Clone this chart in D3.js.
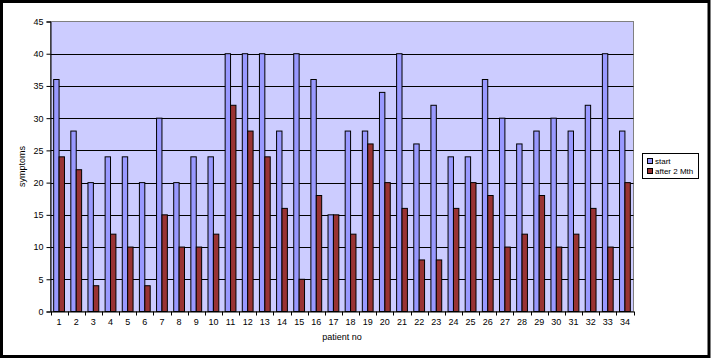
<!DOCTYPE html>
<html><head><meta charset="utf-8">
<script src="https://cdn.jsdelivr.net/npm/d3@7"></script>
<style>body{margin:0;background:#fff}svg{display:block}text{font-family:"Liberation Sans",Arial,sans-serif}</style>
</head><body>
<script>
const patients = d3.range(1, 35).map(String);
const startVals = [36,28,20,24,24,20,30,20,24,24,40,40,40,28,40,36,15,28,28,34,40,26,32,24,24,36,30,26,28,30,28,32,40,28];
const afterVals = [24,22,4,12,10,4,15,10,10,12,32,28,24,16,5,18,15,12,26,20,16,8,8,16,20,18,10,12,18,10,12,16,10,20];
const seriesNames = ["start", "after 2 Mth"];
const yTicks = [0,5,10,15,20,25,30,35,40,45];

const W = 711, H = 359;
const svg = d3.select("body").append("svg").attr("width", W).attr("height", H);
svg.append("rect").attr("x",1.5).attr("y",1.5).attr("width",W-3.5).attr("height",H-4).attr("fill","#fff").attr("stroke","#000").attr("stroke-width",3);

const L = 50.5, R = 633.5, T = 21.5, B = 311.5;
const x = d3.scaleBand().domain(patients).range([L, R]).paddingInner(0).paddingOuter(0);
const y = d3.scaleLinear().domain([0,45]).range([B, T]);
const colors = ["#9999ff", "#993333"];
const series = [startVals, afterVals];

svg.append("rect").attr("x",L).attr("y",T).attr("width",R-L).attr("height",B-T).attr("fill","#ccccff").attr("stroke","#808080");

svg.append("g").selectAll("line").data(yTicks.filter(d=>d>0 && d<45)).join("line")
  .attr("x1",L).attr("x2",R).attr("y1",d=>Math.round(y(d))+0.5).attr("y2",d=>Math.round(y(d))+0.5)
  .attr("stroke","#000");

const bw = x.bandwidth();
const barW = 5.4;
series.forEach((vals, si) => {
  svg.append("g").selectAll("rect").data(vals).join("rect")
    .attr("x",(d,i)=>x(patients[i]) + bw/2 - barW + si*barW)
    .attr("y",d=>y(d))
    .attr("width",barW)
    .attr("height",d=>B-y(d))
    .attr("fill",colors[si]).attr("stroke","#000").attr("stroke-width",1);
});

// y axis
const ya = svg.append("g").attr("transform",`translate(${L},0)`)
  .call(d3.axisLeft(y).tickValues(yTicks).tickSize(4).tickPadding(3));
ya.select(".domain").attr("stroke","#000");
ya.selectAll("text").attr("font-size",9).attr("fill","#000");

// x axis
const xa = svg.append("g").attr("transform",`translate(0,${B})`)
  .call(d3.axisBottom(x).tickSize(0).tickPadding(7));
xa.select(".domain").attr("stroke","#000");
xa.selectAll("text").attr("font-size",9).attr("fill","#000");
svg.append("g").selectAll("line").data(patients.concat(["end"])).join("line")
  .attr("x1",(d,i)=>Math.round(L + i*bw)+0.5).attr("x2",(d,i)=>Math.round(L + i*bw)+0.5)
  .attr("y1",B).attr("y2",B+4).attr("stroke","#000");

svg.append("text").attr("x",(L+R)/2).attr("y",340).attr("text-anchor","middle").attr("font-size",9).text("patient no");
svg.append("text").attr("transform",`translate(25,${(T+B)/2}) rotate(-90)`).attr("text-anchor","middle").attr("font-size",9).text("symptoms");

// legend
const lg = svg.append("g");
lg.append("rect").attr("x",642.5).attr("y",153.5).attr("width",56).attr("height",25).attr("fill","#fff").attr("stroke","#000");
seriesNames.forEach((n,i)=>{
  lg.append("rect").attr("x",647.5).attr("y",158.5+i*10).attr("width",5).attr("height",5).attr("fill",colors[i]).attr("stroke","#000");
  lg.append("text").attr("x",655).attr("y",164+i*10).attr("font-size",8).text(n);
});
</script>
</body></html>
